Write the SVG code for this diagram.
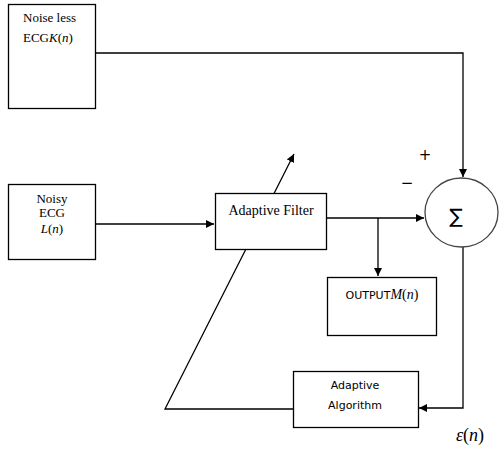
<svg xmlns="http://www.w3.org/2000/svg" width="499" height="450" viewBox="0 0 499 450">
<style>
.box{fill:#fff;stroke:#000;stroke-width:1.3}
.ln{fill:none;stroke:#000;stroke-width:1.3}
.ser{font-family:"Liberation Serif","Times New Roman",serif;fill:#000}
.sans{font-family:"DejaVu Sans","Liberation Sans",sans-serif;fill:#000}
.it{font-style:italic}
</style>
<defs>
<marker id="ah" viewBox="0 0 10 10" refX="10" refY="5" markerWidth="8" markerHeight="8" markerUnits="userSpaceOnUse" orient="auto">
<path d="M0,0 L10,5 L0,10 Z" fill="#000"/>
</marker>
</defs>
<rect width="499" height="450" fill="#fff"/>
<g id="connectors">
<polyline class="ln" points="96,53 463,53 463,177" marker-end="url(#ah)"/>
<line class="ln" x1="96" y1="224" x2="214" y2="224" marker-end="url(#ah)"/>
<line class="ln" x1="327" y1="218" x2="424" y2="218" marker-end="url(#ah)"/>
<line class="ln" x1="378" y1="218" x2="378" y2="276" marker-end="url(#ah)"/>
<polyline class="ln" points="463,247 463,408 419,408" marker-end="url(#ah)"/>
<polyline class="ln" points="293,409 165,409 294,154" marker-end="url(#ah)"/>
</g>
<g id="noiseless">
<rect class="box" x="8.5" y="4.5" width="87" height="104"/>
<text class="ser" x="23" y="22" font-size="13">Noise less</text>
<text class="ser" x="23" y="42" font-size="13">ECG<tspan class="it">K</tspan>(<tspan class="it">n</tspan>)</text>
</g>
<g id="noisy">
<rect class="box" x="8.5" y="184.5" width="87" height="75"/>
<text class="ser" x="52" y="203" font-size="13" text-anchor="middle">Noisy</text>
<text class="ser" x="52" y="217" font-size="13" text-anchor="middle">ECG</text>
<text class="ser" x="52" y="233" font-size="13" text-anchor="middle"><tspan class="it">L</tspan>(<tspan class="it">n</tspan>)</text>
</g>
<g id="filter">
<rect class="box" x="215.5" y="193.5" width="111" height="56"/>
<text class="ser" x="271" y="215" font-size="14" text-anchor="middle">Adaptive Filter</text>
</g>
<g id="output">
<rect class="box" x="327.5" y="277.5" width="109" height="58"/>
<text class="sans" x="382" y="299" font-size="11" text-anchor="middle">OUTPUT<tspan class="ser it" font-size="14">M</tspan><tspan class="ser" font-size="14">(</tspan><tspan class="ser it" font-size="14">n</tspan><tspan class="ser" font-size="14">)</tspan></text>
</g>
<g id="sum">
<ellipse cx="461.5" cy="212.5" rx="36.5" ry="34.5" fill="#fff" stroke="#444" stroke-width="1.3"/>
<text class="sans" x="456" y="223" font-size="20" text-anchor="middle">∑</text>
<text class="sans" x="425" y="160" font-size="15" text-anchor="middle">+</text>
<text class="sans" x="407" y="188" font-size="15" text-anchor="middle">−</text>
</g>
<g id="algorithm">
<rect class="box" x="293.5" y="371.5" width="125" height="56"/>
<text class="sans" x="355" y="389" font-size="11" text-anchor="middle">Adaptive</text>
<text class="sans" x="355" y="409" font-size="11" text-anchor="middle">Algorithm</text>
</g>
<g id="error">
<text class="ser" x="470" y="441" font-size="18" text-anchor="middle"><tspan class="it">ε</tspan>(<tspan class="it">n</tspan>)</text>
</g>
</svg>
